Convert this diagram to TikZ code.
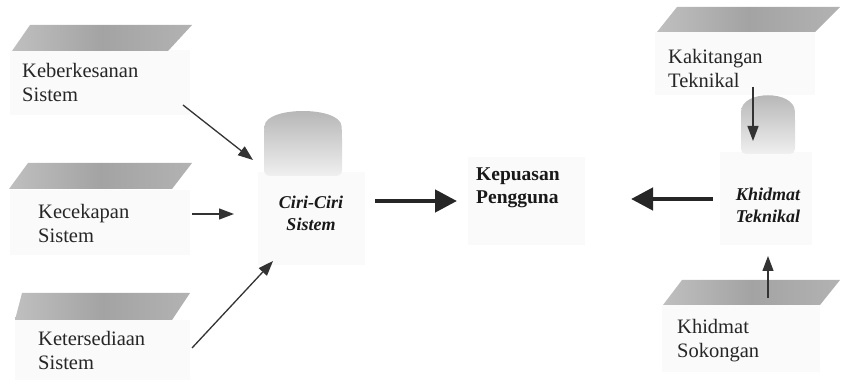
\documentclass[tikz,border=0pt]{standalone}
\usepackage{fontspec}
\setmainfont{Liberation Serif}
\usetikzlibrary{arrows.meta}
\begin{document}
\begin{tikzpicture}[x=1pt,y=-1pt,
  lbl/.style={inner sep=0pt, anchor=north west, align=left, font=\fontsize{20.5}{24.5}\selectfont, text=black!85},
  midb/.style={inner sep=0pt, anchor=north west, align=left, font=\fontsize{19.5}{23}\selectfont\bfseries, text=black!90},
  midi/.style={inner sep=0pt, anchor=north, align=center, font=\fontsize{18}{22}\selectfont\bfseries\itshape, text=black!90},
  slab/.style={draw=none, left color=gray!50, right color=gray!60, middle color=gray!72},
  blob/.style={draw=none, top color=gray!60, bottom color=gray!12},
  thinarrow/.style={draw=black!80, line width=1.3pt, -{Triangle[length=15pt,width=11pt]}},
  thickarrow/.style={draw=black!85, line width=4.5pt, -{Triangle[length=22pt,width=22pt]}},
  faint/.style={fill=black!2, draw=none}
]
\useasboundingbox (0,0) rectangle (841,387);

% faint patterned panels
\fill[faint] (10,50) rectangle (190,115);
\fill[faint] (10,190) rectangle (190,255);
\fill[faint] (15,320) rectangle (190,380);
\fill[faint] (258,172) rectangle (365,265);
\fill[faint] (468,157) rectangle (585,245);
\fill[faint] (720,152) rectangle (812,245);
\fill[faint] (655,32) rectangle (815,95);
\fill[faint] (662,305) rectangle (820,372);

% slanted slabs
\shade[slab] (30,25) -- (192,25) -- (168,51) -- (12,51) -- cycle;
\shade[slab] (28,163) -- (192,163) -- (172,189) -- (9,189) -- cycle;
\shade[slab] (22,293) -- (190,293) -- (172,320) -- (15,320) -- cycle;
\shade[slab] (677,7) -- (840,7) -- (815,32) -- (657,32) -- cycle;
\shade[slab] (682,280) -- (840,280) -- (820,305) -- (663,305) -- cycle;

% grey domes
\shade[blob, rounded corners=6pt] (264,176) -- (264,132) .. controls (266,106) and (340,106) .. (342,132) -- (342,176) -- cycle;
\shade[blob, rounded corners=5pt] (741,154) -- (741,116) .. controls (742,90) and (794,90) .. (795,116) -- (795,154) -- cycle;

% labels
\node[lbl] (keb) at (22,63) {Keberkesanan\\Sistem};
\node[lbl] (kec) at (38,204) {Kecekapan\\Sistem};
\node[lbl] (ket) at (38,331) {Ketersediaan\\Sistem};
\node[lbl] (kak) at (668,49) {Kakitangan\\Teknikal};
\node[lbl] (kso) at (677,319) {Khidmat\\Sokongan};
\node[midi] (ciri) at (311,196) {Ciri-Ciri\\Sistem};
\node[midb] (kep) at (476,168) {Kepuasan\\Pengguna};
\node[midi] (khi) at (768,188) {Khidmat\\Teknikal};

% connector end points
\coordinate (a1s) at (183,105);
\coordinate (a1e) at (253,160);
\coordinate (a2s) at (192,214);
\coordinate (a2e) at (234,214);
\coordinate (a3s) at (192,348);
\coordinate (a3e) at (273,261);
\coordinate (t1s) at (375,201);
\coordinate (t1e) at (457,201);
\coordinate (t2s) at (713,199);
\coordinate (t2e) at (631,199);
\coordinate (dns) at (753,87);
\coordinate (dne) at (753,141);
\coordinate (ups) at (768,298);
\coordinate (upe) at (768,256);

\draw[thinarrow] (a1s) -- (a1e);
\draw[thinarrow] (a2s) -- (a2e);
\draw[thinarrow] (a3s) -- (a3e);
\draw[thickarrow] (t1s) -- (t1e);
\draw[thickarrow] (t2s) -- (t2e);
\draw[thinarrow] (dns) -- (dne);
\draw[thinarrow] (ups) -- (upe);
\end{tikzpicture}
\end{document}
